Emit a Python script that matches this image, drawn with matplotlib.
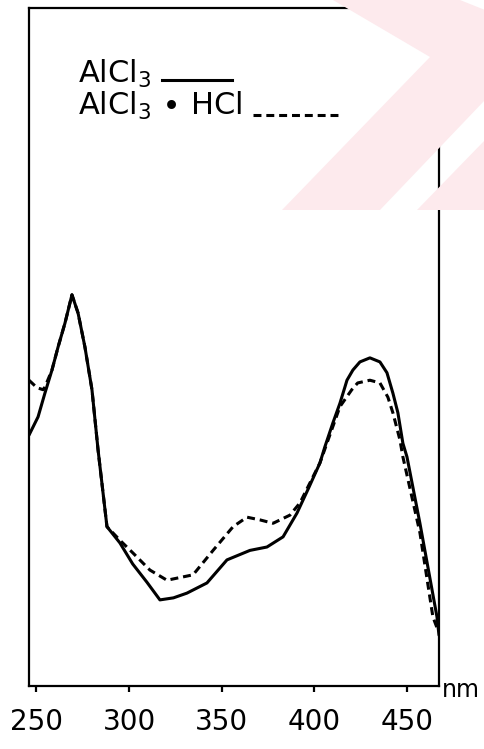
import matplotlib
matplotlib.use("Agg")
import matplotlib.pyplot as plt
from matplotlib.patches import Polygon

# ---- data (arbitrary absorbance units) ----
wl_alcl3 = [246.0, 250.9, 254.6, 258.4, 261.7, 265.4, 269.2, 272.5, 276.2, 280.0,
            283.3, 288.1, 295.1, 302.0, 309.7, 316.7, 324.0, 331.3, 342.1, 352.9,
            365.3, 374.5, 383.2, 390.7, 397.0, 403.1, 405.8, 410.1, 413.9, 416.6,
            417.7, 420.9, 424.7, 430.1, 435.5, 439.3, 442.5, 445.2, 447.9, 450.1,
            457.1, 466.3, 467.4]
abs_alcl3 = [0.370, 0.397, 0.432, 0.466, 0.500, 0.535, 0.577, 0.550, 0.500, 0.437,
             0.348, 0.235, 0.211, 0.180, 0.153, 0.127, 0.130, 0.137, 0.152, 0.186,
             0.200, 0.205, 0.220, 0.255, 0.292, 0.329, 0.353, 0.388, 0.417, 0.441,
             0.451, 0.466, 0.478, 0.484, 0.478, 0.462, 0.432, 0.403, 0.358, 0.338,
             0.240, 0.102, 0.075]

wl_alcl3_hcl = [246.0, 250.3, 253.6, 254.6, 258.4, 261.7, 265.4, 269.2, 272.5, 276.2,
                280.0, 283.3, 288.1, 295.1, 302.2, 311.3, 320.5, 334.6, 345.4, 356.2,
                363.7, 370.7, 377.8, 386.9, 392.3, 403.1, 413.9, 420.3, 423.5, 430.1,
                435.5, 439.8, 442.5, 446.3, 447.9, 457.1, 464.1, 466.3]
abs_alcl3_hcl = [0.451, 0.440, 0.437, 0.441, 0.466, 0.500, 0.535, 0.577, 0.550, 0.500,
                 0.437, 0.348, 0.235, 0.215, 0.196, 0.171, 0.156, 0.164, 0.200, 0.235,
                 0.249, 0.245, 0.240, 0.252, 0.270, 0.329, 0.412, 0.437, 0.447, 0.451,
                 0.447, 0.426, 0.403, 0.363, 0.338, 0.226, 0.102, 0.086]

x_ticks = [250, 300, 350, 400, 450]
x_tick_labels = ["250", "300", "350", "400", "450"]
legend_labels = [r"AlCl$_3$", r"AlCl$_3$ $\bullet$ HCl"]

# ---- figure ----
W, H = 485, 749
fig = plt.figure(figsize=(W / 100, H / 100), dpi=100)
fig.patch.set_facecolor("white")

# faint pink watermark (from the scan), in pixel coords -> figure coords
def fpoly(pts, **kw):
    return Polygon([(x / W, 1 - y / H) for x, y in pts], closed=True,
                   transform=fig.transFigure, **kw)

wm = "#fdeaed"
fig.patches.append(fpoly([(333, 0), (460, 0), (485, 10), (485, 100),
                          (380, 210), (282, 210), (430, 57)], facecolor=wm,
                         edgecolor="none", zorder=0))
fig.patches.append(fpoly([(417, 210), (485, 210), (485, 140)], facecolor=wm,
                         edgecolor="none", zorder=0))

ax = fig.add_axes([29 / W, 1 - 686 / H, 410 / W, 678 / H])
ax.set_facecolor("none")

ax.plot(wl_alcl3, abs_alcl3, color="black", lw=2.2, solid_joinstyle="round",
        solid_capstyle="round")
ax.plot(wl_alcl3_hcl, abs_alcl3_hcl, color="black", lw=2.2,
        linestyle=(0, (2.6, 1.6)))

ax.set_xlim(246.0, 467.4)
ax.set_ylim(0, 1)

for s in ax.spines.values():
    s.set_linewidth(1.6)
    s.set_color("black")

ax.set_xticks(x_ticks)
ax.set_xticklabels(x_tick_labels)
ax.tick_params(axis="x", direction="out", length=4, width=1.6, pad=12,
               labelsize=20)
ax.set_yticks([])

ax.text(1.008, -0.016, "nm", transform=ax.transAxes, fontsize=17,
        ha="left", va="baseline", clip_on=False)

# hand-drawn legend
ax.text(0.1195, 0.889, legend_labels[0], transform=ax.transAxes, fontsize=22,
        ha="left", va="baseline")
ax.plot([0.324, 0.495], [0.894, 0.894], transform=ax.transAxes, color="black",
        lw=2.2)
ax.text(0.1195, 0.842, legend_labels[1], transform=ax.transAxes, fontsize=22,
        ha="left", va="baseline")
ax.plot([0.546, 0.754], [0.842, 0.842], transform=ax.transAxes, color="black",
        lw=2.2, linestyle=(0, (2.6, 1.6)))

fig.savefig("out.png", dpi=100)
